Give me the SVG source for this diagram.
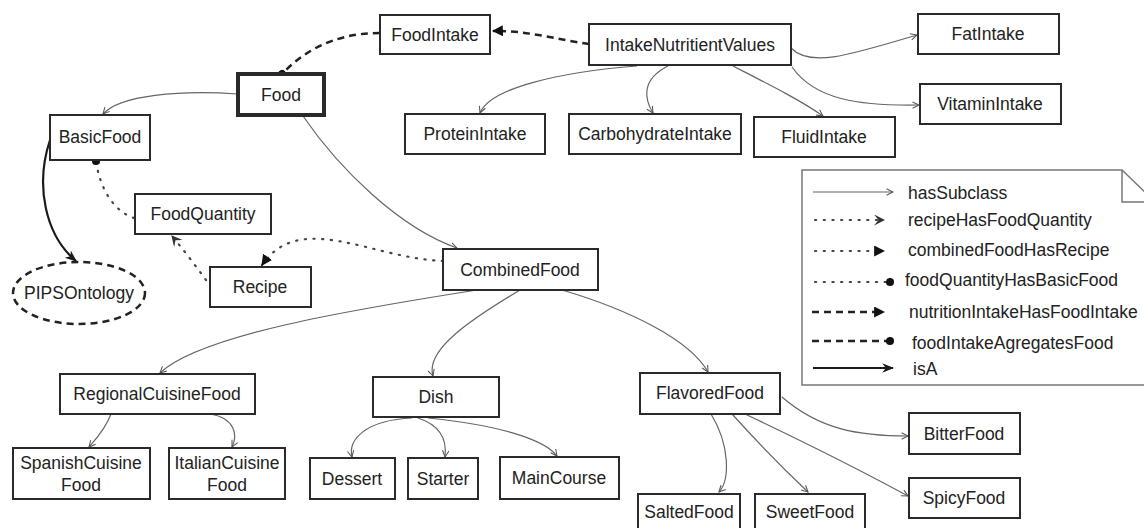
<svg xmlns="http://www.w3.org/2000/svg" width="1144" height="528" viewBox="0 0 1144 528">
<defs>
<style>
.n rect{fill:#fff;stroke:#2a2a2a;stroke-width:2}
.t{font-family:"Liberation Sans",Arial,sans-serif;font-size:17.5px;fill:#222;text-anchor:middle}
.lt{font-family:"Liberation Sans",Arial,sans-serif;font-size:17.5px;fill:#222}
.sub{fill:none;stroke:#666;stroke-width:1.2}
.isa{fill:none;stroke:#1a1a1a;stroke-width:2.2}
.dot{fill:none;stroke:#444;stroke-width:2.2;stroke-dasharray:1.2 7.5;stroke-linecap:round}
.dash{fill:none;stroke:#222;stroke-width:2.5;stroke-dasharray:7 5}
</style>
<marker id="aSub" viewBox="0 0 10 10" refX="9" refY="5" markerWidth="8" markerHeight="8" markerUnits="userSpaceOnUse" orient="auto">
<path d="M1,1 L9,5 L1,9" fill="none" stroke="#555" stroke-width="1.3"/>
</marker>
<marker id="aIsa" viewBox="0 0 10 10" refX="9" refY="5" markerWidth="12" markerHeight="12" markerUnits="userSpaceOnUse" orient="auto">
<path d="M0,1 L10,5 L0,9 L3,5 z" fill="#1a1a1a"/>
</marker>
<marker id="aTri" viewBox="0 0 10 10" refX="9" refY="5" markerWidth="11" markerHeight="11" markerUnits="userSpaceOnUse" orient="auto">
<path d="M0,0 L10,5 L0,10 z" fill="#111"/>
</marker>
<marker id="aNotch" viewBox="0 0 10 10" refX="9" refY="5" markerWidth="11" markerHeight="11" markerUnits="userSpaceOnUse" orient="auto">
<path d="M0,0 L10,5 L0,10 L4,5 z" fill="#333"/>
</marker>
<marker id="aDot" viewBox="0 0 10 10" refX="5" refY="5" markerWidth="9" markerHeight="9" markerUnits="userSpaceOnUse" orient="auto">
<circle cx="5" cy="5" r="4.5" fill="#111"/>
</marker>
</defs>
<rect width="1144" height="528" fill="#fff"/>

<g id="legend">
<path d="M1160,385 L802,385 L802,170 L1122,170 L1152,199" fill="#fff" stroke="#777" stroke-width="1.5"/>
<path d="M1122,170 L1122,202 L1150,202" fill="none" stroke="#777" stroke-width="1.5"/>
<path class="sub" d="M813,192 L893,192" marker-end="url(#aSub)"/>
<path class="dot" d="M815,220 L884,220" marker-end="url(#aNotch)"/>
<path class="dot" d="M815,251 L884,251" marker-end="url(#aTri)"/>
<path class="dot" d="M815,282 L890,282" marker-end="url(#aDot)"/>
<path class="dash" d="M812,312 L884,312" marker-end="url(#aTri)"/>
<path class="dash" d="M812,341 L890,341" marker-end="url(#aDot)"/>
<path class="isa" d="M813,368 L893,368" marker-end="url(#aIsa)"/>
<text class="lt" x="908" y="199">hasSubclass</text>
<text class="lt" x="908" y="226">recipeHasFoodQuantity</text>
<text class="lt" x="908" y="256">combinedFoodHasRecipe</text>
<text class="lt" x="905" y="286">foodQuantityHasBasicFood</text>
<text class="lt" x="909" y="318">nutritionIntakeHasFoodIntake</text>
<text class="lt" x="912" y="349">foodIntakeAgregatesFood</text>
<text class="lt" x="913" y="375">isA</text>
</g>

<g id="connectors">
<path class="sub" d="M238,94 C 180,90 120,95 103,114" marker-end="url(#aSub)"/>
<path class="sub" d="M303,116 C 340,170 400,228 457,248" marker-end="url(#aSub)"/>
<path class="sub" d="M637,66 C 560,72 490,88 480,113" marker-end="url(#aSub)"/>
<path class="sub" d="M668,66 C 640,80 645,100 653,113" marker-end="url(#aSub)"/>
<path class="sub" d="M733,66 C 770,85 800,100 823,116" marker-end="url(#aSub)"/>
<path class="sub" d="M791,48 C 810,68 850,55 917,35" marker-end="url(#aSub)"/>
<path class="sub" d="M792,67 C 815,100 860,106 919,105" marker-end="url(#aSub)"/>
<path class="isa" d="M50,140 C 35,185 45,235 76,261" marker-end="url(#aIsa)"/>
<path class="dot" d="M443,261 C 370,258 300,210 262,265" marker-end="url(#aTri)"/>
<path class="dot" d="M206,280 C 195,265 182,248 172,236" marker-end="url(#aNotch)"/>
<path class="dot" d="M134,218 C 115,212 100,190 96,161" marker-end="url(#aDot)"/>
<path class="dash" d="M589,44 C 560,40 525,30 493,31" marker-end="url(#aTri)"/>
<path class="dash" d="M380,33 C 330,33 300,55 282,74" marker-end="url(#aDot)"/>
<path class="sub" d="M477,290 C 350,310 200,335 160,373" marker-end="url(#aSub)"/>
<path class="sub" d="M520,290 C 470,320 425,350 433,376" marker-end="url(#aSub)"/>
<path class="sub" d="M562,290 C 630,310 690,340 708,372" marker-end="url(#aSub)"/>
<path class="sub" d="M111,414 C 105,430 95,440 89,447" marker-end="url(#aSub)"/>
<path class="sub" d="M210,414 C 235,418 238,435 232,447" marker-end="url(#aSub)"/>
<path class="sub" d="M412,418 C 365,420 348,440 352,457" marker-end="url(#aSub)"/>
<path class="sub" d="M418,418 C 440,425 447,440 445,457" marker-end="url(#aSub)"/>
<path class="sub" d="M428,418 C 500,425 545,440 557,456" marker-end="url(#aSub)"/>
<path class="sub" d="M711,414 C 730,445 730,480 719,492" marker-end="url(#aSub)"/>
<path class="sub" d="M732,414 C 760,445 790,475 808,492" marker-end="url(#aSub)"/>
<path class="sub" d="M782,397 C 820,430 860,436 908,436" marker-end="url(#aSub)"/>
<path class="sub" d="M745,414 C 800,440 860,470 908,496" marker-end="url(#aSub)"/>
</g>

<g id="FoodIntake" class="n"><rect x="380" y="15" width="110" height="39"/><text class="t" x="435" y="41">FoodIntake</text></g>
<g id="IntakeNutritientValues" class="n"><rect x="589" y="24" width="202" height="41"/><text class="t" x="690" y="51">IntakeNutritientValues</text></g>
<g id="Food" class="n"><rect x="238" y="74" width="86" height="41" style="stroke-width:4"/><text class="t" x="281" y="101">Food</text></g>
<g id="BasicFood" class="n"><rect x="50" y="115" width="100" height="45"/><text class="t" x="100" y="143">BasicFood</text></g>
<g id="ProteinIntake" class="n"><rect x="405" y="114" width="140" height="40"/><text class="t" x="475" y="140">ProteinIntake</text></g>
<g id="CarbohydrateIntake" class="n"><rect x="569" y="114" width="172" height="40"/><text class="t" x="655" y="140">CarbohydrateIntake</text></g>
<g id="FluidIntake" class="n"><rect x="754" y="117" width="141" height="40"/><text class="t" x="824" y="143">FluidIntake</text></g>
<g id="FatIntake" class="n"><rect x="918" y="14" width="141" height="40"/><text class="t" x="988" y="40">FatIntake</text></g>
<g id="VitaminIntake" class="n"><rect x="920" y="84" width="141" height="40"/><text class="t" x="990" y="110">VitaminIntake</text></g>
<g id="FoodQuantity" class="n"><rect x="135" y="194" width="136" height="40"/><text class="t" x="203" y="220">FoodQuantity</text></g>
<g id="Recipe" class="n"><rect x="210" y="267" width="101" height="40"/><text class="t" x="260" y="293">Recipe</text></g>
<g id="PIPSOntology"><ellipse cx="79" cy="293" rx="66" ry="31" fill="#fff" stroke="#222" stroke-width="2.5" stroke-dasharray="7 5"/><text class="t" x="79" y="299">PIPSOntology</text></g>
<g id="CombinedFood" class="n"><rect x="443" y="249" width="155" height="41"/><text class="t" x="520" y="276">CombinedFood</text></g>
<g id="RegionalCuisineFood" class="n"><rect x="60" y="374" width="195" height="40"/><text class="t" x="157" y="400">RegionalCuisineFood</text></g>
<g id="Dish" class="n"><rect x="373" y="377" width="126" height="40"/><text class="t" x="436" y="403">Dish</text></g>
<g id="FlavoredFood" class="n"><rect x="640" y="373" width="140" height="41"/><text class="t" x="710" y="399">FlavoredFood</text></g>
<g id="SpanishCuisineFood" class="n"><rect x="13" y="448" width="137" height="51"/><text class="t" x="81" y="469">SpanishCuisine</text><text class="t" x="81" y="491">Food</text></g>
<g id="ItalianCuisineFood" class="n"><rect x="169" y="448" width="116" height="51"/><text class="t" x="227" y="469">ItalianCuisine</text><text class="t" x="227" y="491">Food</text></g>
<g id="Dessert" class="n"><rect x="310" y="458" width="85" height="41"/><text class="t" x="352" y="485">Dessert</text></g>
<g id="Starter" class="n"><rect x="408" y="458" width="70" height="41"/><text class="t" x="443" y="485">Starter</text></g>
<g id="MainCourse" class="n"><rect x="500" y="457" width="119" height="42"/><text class="t" x="559" y="484">MainCourse</text></g>
<g id="BitterFood" class="n"><rect x="909" y="413" width="111" height="41"/><text class="t" x="964" y="440">BitterFood</text></g>
<g id="SpicyFood" class="n"><rect x="909" y="478" width="111" height="40"/><text class="t" x="964" y="504">SpicyFood</text></g>
<g id="SaltedFood" class="n"><rect x="638" y="494" width="102" height="42"/><text class="t" x="689" y="518">SaltedFood</text></g>
<g id="SweetFood" class="n"><rect x="755" y="494" width="110" height="42"/><text class="t" x="810" y="518">SweetFood</text></g>
</svg>
